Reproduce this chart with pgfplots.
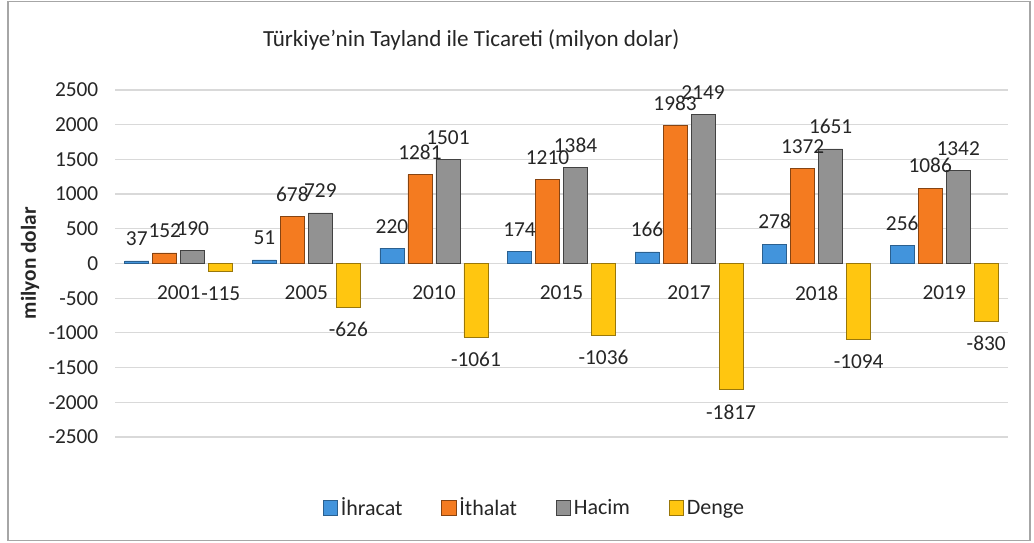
\documentclass[border=0pt]{standalone}
\usepackage{fontspec}
\setmainfont{Carlito}
\usepackage{pgfplots}
\pgfplotsset{compat=1.18}
\definecolor{cblue}{HTML}{4294DC}
\definecolor{corange}{HTML}{F47B20}
\definecolor{cgray}{HTML}{929292}
\definecolor{cyellow}{HTML}{FFC610}
\definecolor{gridc}{HTML}{D9D9D9}
\definecolor{txt}{HTML}{262626}
\pgfplotstableread{
x ihr ith hac den
0 37 152 190 -115
1 51 678 729 -626
2 220 1281 1501 -1061
3 174 1210 1384 -1036
4 166 1983 2149 -1817
5 278 1372 1651 -1094
6 256 1086 1342 -830
}\data
\begin{document}
\begin{tikzpicture}
\path[use as bounding box, fill=white] (0,0) rectangle (775.5pt,406.5pt);
\draw[gray!70, line width=1.2pt] (6pt,1pt) rectangle (772.5pt,405.5pt);
\begin{axis}[
  at={(86.25pt,78.75pt)}, anchor=south west, scale only axis,
  width=669.75pt, height=260.25pt,
  xmin=-0.5, xmax=6.5, ymin=-2500, ymax=2500,
  ytick={-2500,-2000,...,2500},
  xtick={0,...,6}, xticklabels={2001,2005,2010,2015,2017,2018,2019},
  ybar=3pt, bar width=18pt,
  axis line style={draw=none},
  major tick length=0pt,
  ymajorgrids, grid style={gridc, line width=0.9pt},
  /pgf/number format/1000 sep={},
  /pgf/number format/assume math mode=true,
  font=\fontsize{16}{19}\selectfont,
  every tick label/.append style={text=txt, font=\fontsize{16}{19}\selectfont},
  xticklabel style={anchor=center, yshift=108pt},
  yticklabel style={xshift=-9pt},
  ylabel={\bfseries milyon dolar},
  every axis y label/.style={at={(axis description cs:-0.095,0.501)}, rotate=90, anchor=center, font=\fontsize{16}{19}\selectfont, text=txt},
  title={Türkiye'nin Tayland ile Ticareti (milyon dolar)},
  every axis title/.style={at={(axis description cs:0.399,1.144)}, anchor=center, font=\fontsize{17.3}{20}\selectfont, text=txt},
  nodes near coords,
  every node near coord/.append style={font=\fontsize{16}{19}\selectfont, text=txt, inner ysep=11pt},
  legend columns=4,
  legend style={draw=none, at={(0.470,-0.2046)}, anchor=center, font=\fontsize{16.5}{19}\selectfont, text=txt,
    /tikz/every even column/.append style={column sep=27pt}},
  legend image code/.code={\fill[#1] (0pt,-5.5pt) rectangle (11pt,5.5pt);},
]
\addplot[fill=cblue, draw=cblue!65!black, line width=0.6pt] table[x=x,y=ihr]{\data};
\addplot[fill=corange, draw=corange!55!black, line width=0.6pt] table[x=x,y=ith]{\data};
\addplot[fill=cgray, draw=cgray!45!black, line width=0.6pt] table[x=x,y=hac]{\data};
\addplot[fill=cyellow, draw=cyellow!60!black, line width=0.6pt] table[x=x,y=den]{\data};
\legend{İhracat,İthalat,Hacim,Denge}
\end{axis}
\end{tikzpicture}
\end{document}
